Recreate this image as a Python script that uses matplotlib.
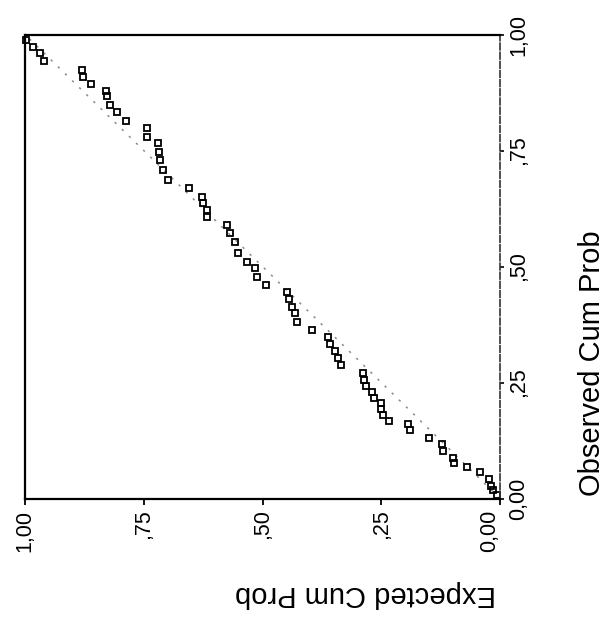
import matplotlib
matplotlib.use("Agg")
import matplotlib.pyplot as plt
import matplotlib.transforms as mtransforms

# P-P plot values (rotated chart): expected cum prob (horizontal, reversed) vs observed cum prob (vertical)
expected = [0.998, 0.983, 0.968, 0.960, 0.880, 0.878, 0.861, 0.829, 0.827, 0.821,
            0.806, 0.787, 0.743, 0.743, 0.720, 0.718, 0.716, 0.709, 0.699, 0.655,
            0.627, 0.625, 0.617, 0.617, 0.575, 0.568, 0.558, 0.552, 0.533, 0.516,
            0.512, 0.493, 0.448, 0.444, 0.438, 0.432, 0.427, 0.396, 0.362, 0.358,
            0.347, 0.341, 0.335, 0.288, 0.286, 0.282, 0.269, 0.265, 0.251, 0.251,
            0.246, 0.234, 0.194, 0.189, 0.149, 0.122, 0.120, 0.099, 0.097, 0.069,
            0.042, 0.023, 0.019, 0.015, 0.006]
observed = [0.988, 0.973, 0.960, 0.943, 0.923, 0.908, 0.893, 0.878, 0.867, 0.848,
            0.833, 0.814, 0.798, 0.779, 0.766, 0.747, 0.730, 0.708, 0.686, 0.669,
            0.650, 0.637, 0.622, 0.607, 0.589, 0.572, 0.553, 0.529, 0.510, 0.497,
            0.477, 0.460, 0.445, 0.430, 0.413, 0.400, 0.380, 0.363, 0.348, 0.333,
            0.318, 0.303, 0.288, 0.270, 0.255, 0.242, 0.230, 0.217, 0.206, 0.193,
            0.180, 0.167, 0.161, 0.148, 0.130, 0.117, 0.102, 0.087, 0.077, 0.068,
            0.057, 0.042, 0.027, 0.018, 0.008]
ref_line = [0.0, 1.0]
tick_vals = [1.0, 0.75, 0.5, 0.25, 0.0]
tick_labels = ["1,00", ",75", ",50", ",25", "0,00"]
xlabel_text = "Expected Cum Prob"
ylabel_text = "Observed Cum Prob"

plt.rcParams['font.family'] = ['Liberation Sans', 'DejaVu Sans']

W, H = 612, 628
fig = plt.figure(figsize=(W / 100, H / 100), dpi=100)
ax = fig.add_axes([25 / W, 1 - 498.5 / H, 475 / W, 464 / H])

ax.plot(ref_line, ref_line, linestyle=(0, (1.5, 5)), color='#8a8a8a', lw=1.1, zorder=1)
ax.plot(expected, observed, linestyle='none', marker='s', markersize=4.6,
        mfc='none', mec='black', mew=1.3, zorder=2, clip_on=False)

ax.set_xlim(1, 0)
ax.set_ylim(0, 1)

for s in ['left', 'top', 'bottom']:
    ax.spines[s].set_linewidth(1.6)
    ax.spines[s].set_color('black')
ax.spines['right'].set_linestyle((0, (4, 1.5)))
ax.spines['right'].set_linewidth(1.2)
ax.spines['right'].set_color('#333333')

ax.set_xticks(tick_vals)
ax.set_xticklabels(tick_labels, rotation=90, fontsize=15.5)
ax.set_yticks(tick_vals)
ax.set_yticklabels(tick_labels, rotation=90, fontsize=15.5, va='center')
ax.yaxis.tick_right()
ax.tick_params(axis='x', direction='out', length=4, width=1.3, pad=4)
ax.tick_params(axis='y', direction='out', length=3, width=1.2, pad=3,
               left=False, right=True, labelleft=False, labelright=True)

# nudge the bottom "0,00" label slightly left, as in the original
xl = ax.get_xticklabels()[-1]
xl.set_transform(xl.get_transform() + mtransforms.ScaledTranslation(-10 / 100, 0, fig.dpi_scale_trans))

fig.text(592 / W, 1 - 363 / H, ylabel_text, rotation=90, fontsize=21,
         ha='center', va='center')
fig.text(365 / W, 1 - 594 / H, xlabel_text, rotation=180, fontsize=21,
         ha='center', va='center')

fig.savefig('out.png', dpi=100)
